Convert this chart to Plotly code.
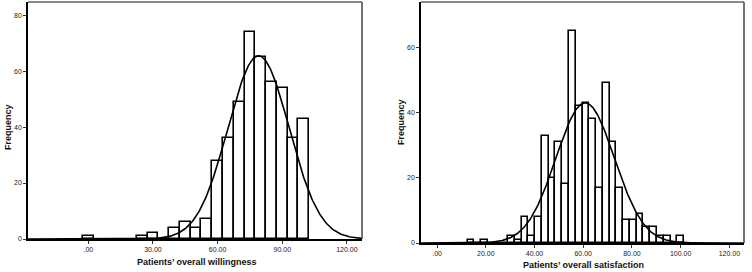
import numpy as np
import plotly.graph_objects as go

# ---- Left panel: Patients' overall willingness ----
will_centers = [0, 25, 30, 35, 40, 45, 50, 55, 60, 65, 70, 75, 80, 85, 90, 95, 100]
will_counts = [1, 1, 2, 0, 4, 6, 4, 7, 28, 36, 49, 74, 65, 56, 54, 36, 43]
will_bin = 5.0
will_mean, will_sd = 79.0, 14.2
will_xticks = [0, 30, 60, 90, 120]
will_xticktext = [".00", "30.00", "60.00", "90.00", "120.00"]
will_yticks = [0, 20, 40, 60, 80]

# ---- Right panel: Patients' overall satisfaction ----
sat_bin = 100.0 / 36
sat_k = list(range(5, 37))
sat_centers = [k * sat_bin for k in sat_k]
sat_counts = [1, 0, 1, 0, 0, 0, 2, 1, 8, 2, 8, 33, 20, 31, 18, 65, 42, 43, 38, 17,
              49, 31, 17, 7, 7, 9, 5, 5, 2, 2, 0, 2]
sat_mean, sat_sd = 60.8, 12.0
sat_xticks = [0, 20, 40, 60, 80, 100, 120]
sat_xticktext = [".00", "20.00", "40.00", "60.00", "80.00", "100.00", "120.00"]
sat_yticks = [0, 20, 40, 60]

W_XR = [-28, 127]
W_YR = [0, 84.7]
S_XR = [-6.6, 126]
S_YR = [0, 74]


def normal_curve(xr, counts, binw, mu, sd):
    xs = np.linspace(xr[0], xr[1], 400)
    n = sum(counts)
    ys = n * binw / (sd * np.sqrt(2 * np.pi)) * np.exp(-0.5 * ((xs - mu) / sd) ** 2)
    return xs, ys


fig = go.Figure()

fig.add_trace(go.Bar(x=will_centers, y=will_counts, width=will_bin,
                     marker=dict(color="white", line=dict(color="black", width=1.6)),
                     xaxis="x", yaxis="y", showlegend=False))
cx, cy = normal_curve(W_XR, will_counts, will_bin, will_mean, will_sd)
fig.add_trace(go.Scatter(x=cx, y=cy, mode="lines", line=dict(color="black", width=1.6),
                         xaxis="x", yaxis="y", showlegend=False))

fig.add_trace(go.Bar(x=sat_centers, y=sat_counts, width=sat_bin,
                     marker=dict(color="white", line=dict(color="black", width=1.6)),
                     xaxis="x2", yaxis="y2", showlegend=False))
cx2, cy2 = normal_curve(S_XR, sat_counts, sat_bin, sat_mean, sat_sd)
fig.add_trace(go.Scatter(x=cx2, y=cy2, mode="lines", line=dict(color="black", width=1.6),
                         xaxis="x2", yaxis="y2", showlegend=False))

tickfont = dict(family="Liberation Sans, Arial, sans-serif", size=7, color="#222")
axcommon = dict(showgrid=False, zeroline=False, showline=True, linecolor="black",
                linewidth=1.5, ticks="outside", ticklen=3, tickcolor="#333",
                tickwidth=1, tickfont=tickfont, fixedrange=True, automargin=False)

fig.update_layout(
    width=752, height=272,
    margin=dict(l=0, r=0, t=0, b=0, autoexpand=False),
    paper_bgcolor="white", plot_bgcolor="white",
    bargap=0,
    xaxis=dict(domain=[28 / 752, 362 / 752], range=W_XR, tickvals=will_xticks,
               ticktext=will_xticktext, anchor="y", **axcommon),
    yaxis=dict(domain=[33 / 272, 270 / 272], range=W_YR, tickvals=will_yticks,
               anchor="x", **axcommon),
    xaxis2=dict(domain=[421 / 752, 744 / 752], range=S_XR, tickvals=sat_xticks,
                ticktext=sat_xticktext, anchor="y2", **axcommon),
    yaxis2=dict(domain=[29 / 272, 270 / 272], range=S_YR, tickvals=sat_yticks,
                anchor="x2", **axcommon),
)

titlefont = dict(family="Liberation Sans, Arial, sans-serif", size=9, color="#111")
ann = dict(xref="paper", yref="paper", showarrow=False, font=titlefont,
           xanchor="center", yanchor="middle")
fig.add_annotation(text="<b>Frequency</b>", x=8 / 752, y=(272 - 127) / 272,
                   textangle=-90, **ann)
fig.add_annotation(text="<b>Patients’ overall willingness</b>", x=197 / 752,
                   y=(272 - 262) / 272, **ann)
fig.add_annotation(text="<b>Frequency</b>", x=401 / 752, y=(272 - 122) / 272,
                   textangle=-90, **ann)
fig.add_annotation(text="<b>Patients’ overall satisfaction</b>", x=583 / 752,
                   y=(272 - 265) / 272, **ann)

# frame lines (top gray, right dark)
for xr, yr in (("x domain", "y domain"), ("x2 domain", "y2 domain")):
    fig.add_shape(type="line", xref=xr, yref=yr, x0=0, x1=1, y0=1, y1=1,
                  line=dict(color="#888", width=2))
    fig.add_shape(type="line", xref=xr, yref=yr, x0=1, x1=1, y0=0, y1=1,
                  line=dict(color="#444", width=1.5))

fig.write_html("out.html", config={"displayModeBar": False},
               post_script="document.body.style.margin='0';document.body.style.overflow='hidden';")
